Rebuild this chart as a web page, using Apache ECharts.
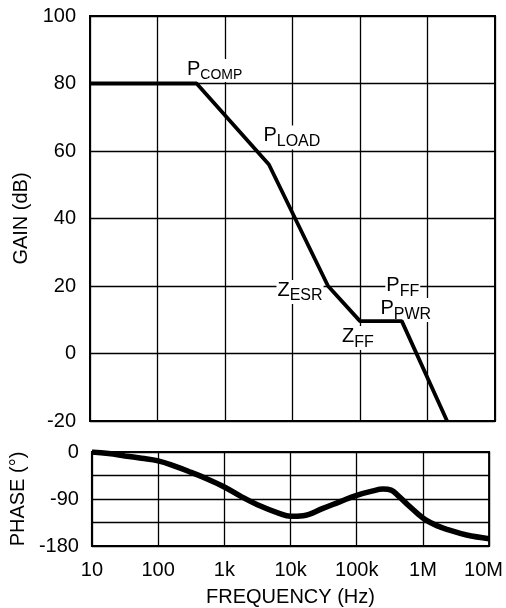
<!DOCTYPE html>
<html>
<head>
<meta charset="utf-8">
<script src="https://cdn.jsdelivr.net/npm/echarts@6/dist/echarts.min.js"></script>
<style>
html,body{margin:0;padding:0;background:#fff;}
#c{width:506px;height:608px;}
</style>
</head>
<body>
<div id="c"></div>
<script>
// ---- data ----
const freqLabels = ['10', '100', '1k', '10k', '100k', '1M', '10M'];
const gainFreq = [10, 380, 4470, 33600, 100000, 416000, 1950000];
const gainDb   = [80, 80, 56, 20, 9.6, 9.6, -20];
const phaseFreq = [10, 17.8, 31.6, 56.2, 100, 178, 316, 562, 1000, 1780, 3160, 6900, 10000, 15500, 30900, 56200, 100000, 170000, 251000, 331000, 417000, 589000, 832000, 1100000, 1620000, 2290000, 4570000, 10000000];
const phaseDeg  = [0, -3, -7.5, -12, -17, -27, -39, -52, -67, -85, -101, -118, -123, -122, -108, -95, -83, -75, -71, -73, -83, -101, -118, -130, -141, -148, -159, -166];
const gainTicks = [-20, 0, 20, 40, 60, 80, 100];
const phaseTicks = [-180, -90, 0];
// annotations: main letter, subscript, index of the corner in the gain arrays
const annoMain = ['P', 'P', 'Z', 'Z', 'P', 'P'];
const annoSub  = ['COMP', 'LOAD', 'ESR', 'FF', 'FF', 'PWR'];
const annoIdx  = [1, 2, 3, 4, 5, 5];
const annoOffset = [[18, -13], [23, -27], [-28, 6], [-2, 17], [1, -34], [4, -11]];

const FONT = "'Liberation Sans', Arial, sans-serif";
const chart = echarts.init(document.getElementById('c'), null, {renderer: 'canvas'});

function fmtFreq(v) {
  const e = Math.round(Math.log10(v));
  const t = freqLabels[e - 1];
  if (t === undefined) return '';
  return e === 7 ? '{r|' + t + '}' : t;
}

const gainPts = gainFreq.map((f, i) => [f, gainDb[i]]);
const phasePts = phaseFreq.map((f, i) => [f, phaseDeg[i]]);

const marks = annoMain.map((m, k) => ({
  coord: [gainFreq[annoIdx[k]], gainDb[annoIdx[k]]],
  label: {
    offset: annoOffset[k],
    formatter: '{m|' + m + '}{' + (annoSub[k] === 'COMP' ? 'c' : 's') + '|' + annoSub[k] + '}'
  }
}));

const splitStyle = {show: true, lineStyle: {color: '#000', width: 1.3}};

chart.setOption({
  animation: false,
  textStyle: {fontFamily: FONT, color: '#000'},
  grid: [
    {left: 90, right: 11, top: 16, height: 405, show: true, borderColor: '#000', borderWidth: 2, backgroundColor: 'transparent'},
    {left: 88, right: 13, top: 452, height: 95, show: true, borderColor: '#000', borderWidth: 2, backgroundColor: 'transparent'}
  ],
  xAxis: [
    {type: 'log', gridIndex: 0, min: 10, max: 1e7, logBase: 10, splitNumber: 6,
     axisLine: {show: false}, axisTick: {show: false}, axisLabel: {show: false},
     splitLine: splitStyle},
    {type: 'log', gridIndex: 1, min: 10, max: 1e7, logBase: 10, splitNumber: 6,
     axisLine: {show: false}, axisTick: {show: false},
     axisLabel: {show: true, color: '#000', fontSize: 20, fontFamily: FONT, margin: 14,
       formatter: fmtFreq,
       rich: {r: {width: 50, align: 'left', fontSize: 20, fontFamily: FONT, color: '#000'}}},
     splitLine: splitStyle,
     name: 'FREQUENCY (Hz)', nameLocation: 'middle', nameGap: 41,
     nameTextStyle: {fontSize: 20, fontFamily: FONT, color: '#000'}}
  ],
  yAxis: [
    {type: 'value', gridIndex: 0, min: gainTicks[0], max: gainTicks[gainTicks.length - 1], interval: 20,
     axisLine: {show: false}, axisTick: {show: false},
     axisLabel: {color: '#000', fontSize: 20, fontFamily: FONT, margin: 14,
       formatter: v => gainTicks.indexOf(v) >= 0 ? String(v) : ''},
     splitLine: splitStyle,
     name: 'GAIN (dB)', nameLocation: 'middle', nameGap: 58, nameRotate: 90,
     nameTextStyle: {fontSize: 20, fontFamily: FONT, color: '#000'}},
    {type: 'value', gridIndex: 1, min: phaseTicks[0], max: phaseTicks[phaseTicks.length - 1], interval: 45,
     axisLine: {show: false}, axisTick: {show: false},
     axisLabel: {color: '#000', fontSize: 20, fontFamily: FONT, margin: 13,
       formatter: v => phaseTicks.indexOf(v) >= 0 ? String(v) : ''},
     splitLine: splitStyle,
     name: 'PHASE (°)', nameLocation: 'middle', nameGap: 57, nameRotate: 90,
     nameTextStyle: {fontSize: 20, fontFamily: FONT, color: '#000'}}
  ],
  series: [
    {type: 'line', xAxisIndex: 0, yAxisIndex: 0, data: gainPts, showSymbol: false, symbol: 'none',
     lineStyle: {color: '#000', width: 3.8}, clip: true, z: 5,
     markPoint: {
       symbol: 'circle', symbolSize: 0, silent: true,
       label: {show: true, position: 'inside', color: '#000', fontSize: 20, fontFamily: FONT,
         backgroundColor: '#fff', padding: [0, 1, 0, 1],
         rich: {
           m: {fontSize: 20, fontFamily: FONT, color: '#000', lineHeight: 20, verticalAlign: 'top'},
           s: {fontSize: 16, fontFamily: FONT, color: '#000', lineHeight: 24, verticalAlign: 'bottom'},
           c: {fontSize: 14, fontFamily: FONT, color: '#000', lineHeight: 23, verticalAlign: 'bottom'}
         }},
       data: marks
     }},
    {type: 'line', xAxisIndex: 1, yAxisIndex: 1, data: phasePts, showSymbol: false, symbol: 'none',
     smooth: 0.4, lineStyle: {color: '#000', width: 5.5}, clip: true, z: 5}
  ]
});
</script>
</body>
</html>
